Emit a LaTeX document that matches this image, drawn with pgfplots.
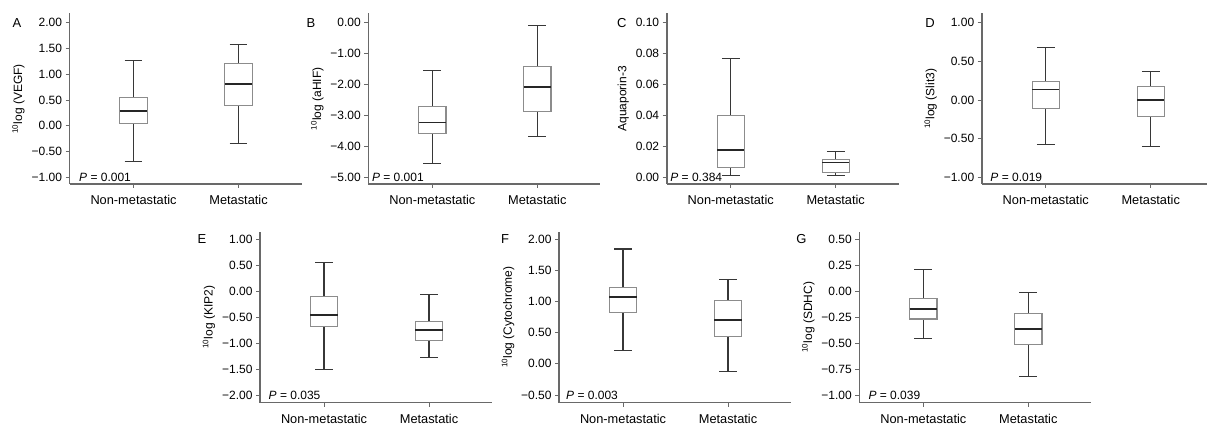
\documentclass[border=0pt]{standalone}
\usepackage{fontspec}
\setmainfont{Liberation Sans}
\usepackage{pgfplots}
\pgfplotsset{compat=1.18}
\usepgfplotslibrary{statistics}

\definecolor{axgray}{RGB}{105,105,105}
\definecolor{boxgray}{RGB}{140,140,140}
\definecolor{whisk}{RGB}{55,55,55}

\newcommand{\lbl}{\fontsize{12}{14}\selectfont}

\tikzset{pnote/.style={anchor=west, inner sep=0pt, font=\lbl}}

\pgfplotsset{
  panel/.style={
    scale only axis, width=232pt, height=170.5pt,
    anchor=south west,
    axis lines*=left,
    axis line style={axgray, line width=1.6pt},
    xmin=0.39, xmax=2.6,
    xtick={1,2}, xticklabels={Non-metastatic,Metastatic},
    tick align=outside, major tick length=4pt,
    tick style={axgray, line width=0.8pt},
    yticklabel style={font=\lbl},
    xticklabel style={font=\fontsize{12.8}{15}\selectfont, yshift=-4pt},
    ylabel style={font=\lbl},
    boxplot/draw direction=y,
    boxplot/box extend=0.26,
    boxplot/whisker extend=0.17,
    boxplot/every box/.style={draw=boxgray, line width=1.1pt},
    boxplot/every whisker/.style={draw=whisk, line width=1.1pt},
    boxplot/every median/.style={draw=black!85, line width=1.8pt},
    clip=false,
  },
}

\begin{document}
\begin{tikzpicture}
\useasboundingbox (0,0) rectangle (1207pt,425pt);

% ---- A: VEGF ----
\begin{axis}[panel, at={(69.5pt,241pt)},
    ymin=-1.130, ymax=2.179,
    ytick={-1,-0.5,0,0.5,1,1.5,2},
    yticklabels={−1.00,−0.50,0.00,0.50,1.00,1.50,2.00},
    ylabel={\textsuperscript{10}log (VEGF)}]
\addplot[boxplot prepared={lower whisker=-0.70, lower quartile=0.047, median=0.286,
    upper quartile=0.545, upper whisker=1.264, draw position=1}] coordinates {};
\addplot[boxplot prepared={lower whisker=-0.342, lower quartile=0.397, median=0.805,
    upper quartile=1.212, upper whisker=1.569, draw position=2}] coordinates {};
\node[pnote] at ([xshift=9.5pt]axis cs:0.39,-1) {\textit{P} = 0.001};
\end{axis}

% ---- B: aHIF ----
\begin{axis}[panel, at={(368.3pt,241pt)},
    ymin=-5.217, ymax=0.298,
    ytick={-5,-4,-3,-2,-1,0},
    yticklabels={−5.00,−4.00,−3.00,−2.00,−1.00,0.00},
    ylabel={\textsuperscript{10}log (aHIF)}]
\addplot[boxplot prepared={lower whisker=-4.55, lower quartile=-3.59, median=-3.23,
    upper quartile=-2.70, upper whisker=-1.54, draw position=1}] coordinates {};
\addplot[boxplot prepared={lower whisker=-3.68, lower quartile=-2.87, median=-2.09,
    upper quartile=-1.43, upper whisker=-0.09, draw position=2}] coordinates {};
\node[pnote] at ([xshift=3.5pt]axis cs:0.39,-5) {\textit{P} = 0.001};
\end{axis}

% ---- C: Aquaporin-3 ----
\begin{axis}[panel, at={(666.7pt,241pt)},
    ymin=-0.00433, ymax=0.10595,
    ytick={0,0.02,0.04,0.06,0.08,0.1},
    yticklabels={0.00,0.02,0.04,0.06,0.08,0.10},
    ylabel={Aquaporin-3}]
\addplot[boxplot prepared={lower whisker=0.0009, lower quartile=0.0064, median=0.0176,
    upper quartile=0.040, upper whisker=0.0767, draw position=1}] coordinates {};
\addplot[boxplot prepared={lower whisker=0.0009, lower quartile=0.0032, median=0.0096,
    upper quartile=0.0113, upper whisker=0.0169, draw position=2}] coordinates {};
\node[pnote] at ([xshift=3.5pt]axis cs:0.39,0) {\textit{P} = 0.384};
\end{axis}

% ---- D: Slit3 ----
\begin{axis}[panel, at={(981.7pt,241pt)}, width=225pt, xmax=2.533,
    ymin=-1.0867, ymax=1.119,
    ytick={-1,-0.5,0,0.5,1},
    yticklabels={−1.00,−0.50,0.00,0.50,1.00},
    ylabel={\textsuperscript{10}log (Slit3)}]
\addplot[boxplot prepared={lower whisker=-0.58, lower quartile=-0.109, median=0.135,
    upper quartile=0.238, upper whisker=0.683, draw position=1}] coordinates {};
\addplot[boxplot prepared={lower whisker=-0.60, lower quartile=-0.216, median=0.005,
    upper quartile=0.178, upper whisker=0.366, draw position=2}] coordinates {};
\node[pnote] at ([xshift=8.5pt]axis cs:0.39,-1) {\textit{P} = 0.019};
\end{axis}

% ---- E: KIP2 ----
\begin{axis}[panel, at={(260pt,22.3pt)}, height=171pt,
    ymin=-2.148, ymax=1.146,
    ytick={-2,-1.5,-1,-0.5,0,0.5,1},
    yticklabels={−2.00,−1.50,−1.00,−0.50,0.00,0.50,1.00},
    ylabel={\textsuperscript{10}log (KIP2)}]
\addplot[boxplot prepared={lower whisker=-1.51, lower quartile=-0.677, median=-0.465,
    upper quartile=-0.11, upper whisker=0.548, draw position=1}] coordinates {};
\addplot[boxplot prepared={lower whisker=-1.271, lower quartile=-0.948, median=-0.755,
    upper quartile=-0.581, upper whisker=-0.058, draw position=2}] coordinates {};
\node[pnote] at ([xshift=8.5pt]axis cs:0.39,-2) {\textit{P} = 0.035};
\end{axis}

% ---- F: Cytochrome ----
\begin{axis}[panel, at={(559pt,22.3pt)}, height=171pt,
    ymin=-0.624, ymax=2.122,
    ytick={-0.5,0,0.5,1,1.5,2},
    yticklabels={−0.50,0.00,0.50,1.00,1.50,2.00},
    ylabel={\textsuperscript{10}log (Cytochrome)}]
\addplot[boxplot prepared={lower whisker=0.22, lower quartile=0.823, median=1.075,
    upper quartile=1.231, upper whisker=1.844, draw position=1}] coordinates {};
\addplot[boxplot prepared={lower whisker=-0.129, lower quartile=0.446, median=0.704,
    upper quartile=1.011, upper whisker=1.36, draw position=2}] coordinates {};
\node[pnote] at ([xshift=7pt]axis cs:0.39,-0.5) {\textit{P} = 0.003};
\end{axis}

% ---- G: SDHC ----
\begin{axis}[panel, at={(859.3pt,22.3pt)}, height=171pt,
    ymin=-1.074, ymax=0.573,
    ytick={-1,-0.75,-0.5,-0.25,0,0.25,0.5},
    yticklabels={−1.00,−0.75,−0.50,−0.25,0.00,0.25,0.50},
    ylabel={\textsuperscript{10}log (SDHC)}]
\addplot[boxplot prepared={lower whisker=-0.458, lower quartile=-0.268, median=-0.171,
    upper quartile=-0.071, upper whisker=0.21, draw position=1}] coordinates {};
\addplot[boxplot prepared={lower whisker=-0.826, lower quartile=-0.513, median=-0.365,
    upper quartile=-0.213, upper whisker=-0.013, draw position=2}] coordinates {};
\node[pnote] at ([xshift=9pt]axis cs:0.39,-1) {\textit{P} = 0.039};
\end{axis}

% panel letters
\foreach \x/\y/\t in {17/402.3/A, 311/402.3/B, 621.7/402.3/C, 930/402.3/D,
                      202/185.7/E, 505/185.7/F, 801.3/185.7/G}
  \node[font=\fontsize{13}{15}\selectfont, inner sep=0pt] at (\x pt,\y pt) {\t};
\end{tikzpicture}
\end{document}
